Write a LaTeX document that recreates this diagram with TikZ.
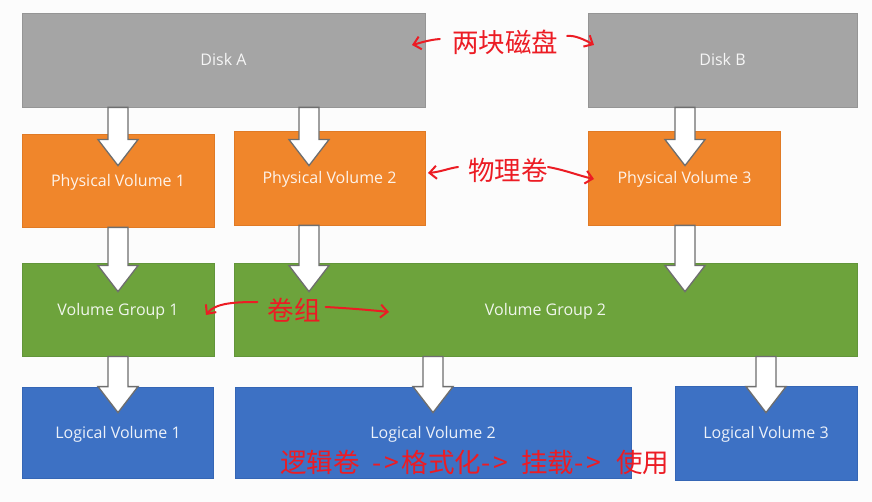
\documentclass[tikz,border=0pt]{standalone}
\usepackage{fontspec}
\setmainfont{Open Sans}
\newfontfamily\cjk{Noto Sans CJK SC}
\usetikzlibrary{calc,arrows.meta}
\definecolor{bg}{HTML}{FCFCFC}
\definecolor{diskgray}{HTML}{A5A5A5}
\definecolor{diskline}{HTML}{959595}
\definecolor{pvorange}{HTML}{F0862B}
\definecolor{pvline}{HTML}{E07A25}
\definecolor{vggreen}{HTML}{6DA33C}
\definecolor{vgline}{HTML}{62953A}
\definecolor{lvblue}{HTML}{3D71C4}
\definecolor{lvline}{HTML}{3566B5}
\definecolor{arrline}{HTML}{6E6E6E}
\definecolor{ink}{HTML}{EC1C24}
\tikzset{
  box/.style={rectangle, line width=0.8pt, inner sep=0pt, text height=13.4pt, text depth=2pt,
    font=\fontsize{16}{19}\selectfont},
  diskbox/.style={box, fill=diskgray, draw=diskline, text=white!90!diskgray},
  pvbox/.style={box, fill=pvorange, draw=pvline, text=white!90!pvorange},
  vgbox/.style={box, fill=vggreen, draw=vgline, text=white!90!vggreen},
  lvbox/.style={box, fill=lvblue, draw=lvline, text=white!90!lvblue},
  blk/.style={fill=white, draw=arrline, line width=1.3pt, line join=miter},
  note/.style={text=ink, font=\cjk\fontsize{26.5}{30}\selectfont, inner sep=0pt},
  pen/.style={draw=ink, line width=2pt, line cap=round, line join=round,
    -{Straight Barb[length=7pt,width=13pt,line width=2pt]}},
}
\newcommand\blkarrow[4]{%
  \draw[blk] let \p1=(#2.south), \p2=(#3.north) in
    ({#1pt-10pt},\y1) -- ({#1pt-10pt},{\y2-#4pt+26pt}) -- ({#1pt-20pt},{\y2-#4pt+26pt})
    -- ({#1pt},{\y2-#4pt}) -- ({#1pt+20pt},{\y2-#4pt+26pt}) -- ({#1pt+10pt},{\y2-#4pt+26pt})
    -- ({#1pt+10pt},\y1) -- cycle;}
\newcommand\dasharr{-\hspace{3pt}>}
\begin{document}
\begin{tikzpicture}[x=1pt,y=-1pt]
\fill[bg] (0,0) rectangle (872,502);
\useasboundingbox (0,0) rectangle (872,502);
% disks
\node[diskbox, minimum width=403pt, minimum height=94pt] (diskA) at (223.5,60) {Disk A};
\node[diskbox, minimum width=269pt, minimum height=94pt] (diskB) at (722.5,60) {Disk B};
% physical volumes
\node[pvbox, minimum width=192pt, minimum height=93pt] (pv1) at (118,180.5) {Physical Volume 1};
\node[pvbox, minimum width=191pt, minimum height=94pt] (pv2) at (329.5,178) {Physical Volume 2};
\node[pvbox, minimum width=192pt, minimum height=94pt] (pv3) at (684.5,178) {Physical Volume 3};
% volume groups
\node[vgbox, minimum width=192pt, minimum height=93pt] (vg1) at (118,309.5) {Volume Group 1};
\node[vgbox, minimum width=623pt, minimum height=93pt] (vg2) at (545.5,309.5) {Volume Group 2};
% logical volumes
\node[lvbox, minimum width=191pt, minimum height=91pt] (lv1) at (118,432.5) {Logical Volume 1};
\node[lvbox, minimum width=396pt, minimum height=91pt] (lv2) at (433,432.5) {Logical Volume 2};
\node[lvbox, minimum width=182pt, minimum height=94pt] (lv3) at (766,433) {Logical Volume 3};
% block arrows
\blkarrow{118}{diskA}{pv1}{32}
\blkarrow{309}{diskA}{pv2}{35}
\blkarrow{685}{diskB}{pv3}{35}
\blkarrow{118}{pv1}{vg1}{29}
\blkarrow{309}{pv2}{vg2}{29}
\blkarrow{685}{pv3}{vg2}{29}
\blkarrow{118}{vg1}{lv1}{26}
\blkarrow{433}{vg2}{lv2}{26}
\blkarrow{766}{vg2}{lv3}{27}
% red annotations
\node[note] (n1) at (505,42) {两块磁盘};
\node[note] (n2) at (508,170) {物理卷};
\node[note] (n3) at (294,310) {卷组};
\node[note, anchor=west] (n4) at (280,462)
  {逻辑卷\makebox[42pt][r]{\dasharr\hspace{2pt}}格式化\makebox[40pt][l]{\dasharr}挂载\makebox[42pt][l]{\dasharr}使用};
\coordinate (a1) at (412,45);
\coordinate (b1) at (594,45);
\coordinate (a2) at (428,173);
\coordinate (b2) at (594,179);
\coordinate (a3) at (206,315);
\coordinate (b3) at (389,312);
\draw[pen] (n1.west)++(-12,-3) .. controls (428,40) and (420,43) .. (a1);
\draw[pen] (n1.east)++(9,-6) .. controls (575,35) and (585,40) .. (b1);
\draw[pen] (n2.west)++(-10,-3) .. controls (450,168) and (440,172) .. (a2);
\draw[pen] (n2.east)++(0,-3) .. controls (565,170) and (580,176) .. (b2);
\draw[pen] (n3.west)++(-10,-8) .. controls (235,302) and (215,303) .. (a3);
\draw[pen] (n3.east)++(5,-3) .. controls (345,308) and (370,310) .. (b3);
\end{tikzpicture}
\end{document}
